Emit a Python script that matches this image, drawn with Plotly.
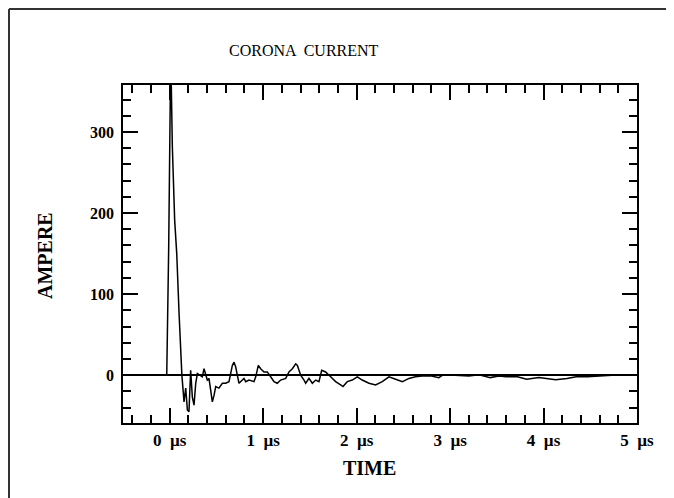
import plotly.graph_objects as go

# time in microseconds, current in ampere
time_us = [-0.5, -0.032, -0.011, 0.003, 0.008, 0.017, 0.028, 0.053, 0.075, 0.10, 0.124, 0.13,
           0.153, 0.171, 0.189, 0.206, 0.224, 0.242, 0.260, 0.278, 0.296, 0.331, 0.349, 0.367,
           0.385, 0.402, 0.420, 0.438, 0.456, 0.474, 0.492, 0.527, 0.563, 0.599, 0.634, 0.670,
           0.688, 0.706, 0.723, 0.741, 0.777, 0.795, 0.813, 0.848, 0.902, 0.920, 0.948, 0.973,
           1.009, 1.044, 1.080, 1.116, 1.151, 1.187, 1.241, 1.276, 1.312, 1.348, 1.366, 1.401,
           1.437, 1.455, 1.490, 1.526, 1.562, 1.597, 1.626, 1.668, 1.722, 1.775, 1.829, 1.854,
           1.900, 1.953, 2.007, 2.060, 2.132, 2.203, 2.274, 2.346, 2.417, 2.49, 2.56, 2.63,
           2.70, 2.80, 2.88, 2.92, 3.05, 3.20, 3.31, 3.43, 3.52, 3.60, 3.72, 3.82, 3.95, 4.05,
           4.13, 4.25, 4.35, 4.47, 4.58, 4.73, 4.85, 5.0]
current_a = [0, 0, 158, 355, 365, 356, 282, 191, 150, 76, 10, 0,
             -33, -16, -43, -45, 6, -27, -37, -10, 2, 0, -2, 8,
             0, -6, -4, -16, -33, -25, -14, -16, -10, -10, -8, 12,
             16, 10, -2, -10, -6, -4, -8, -6, -8, -2, 12, 8,
             4, 4, -2, -8, -10, -6, -4, 4, 8, 14, 12, 0,
             -6, -10, -4, -10, -6, -8, 6, 4, -2, -8, -12, -14,
             -8, -6, -2, -6, -10, -12, -8, -2, -5, -8, -4, -2,
             -1, -1, -3, 0, 0, -1, 0.5, -3, -1, -2, -2, -5, -3, -4,
             -5.5, -4, -2, -2, -1, 0, 0, 0]

x_tickvals = [0, 1, 2, 3, 4, 5]
x_ticktext = ["<b>0\u00a0\u00a0µs</b>", "<b>1\u00a0\u00a0µs</b>",
              "<b>2\u00a0\u00a0µs</b>", "<b>3\u00a0\u00a0µs</b>",
              "<b>4\u00a0\u00a0µs</b>", "<b>5\u00a0\u00a0µs</b>"]
y_tickvals = [0, 100, 200, 300]
y_ticktext = ["<b>0</b>", "<b>100</b>", "<b>200</b>", "<b>300</b>"]

FONT = "Liberation Serif"
# the page body adds an 8px offset; figure is sized so the plot lands where the reference has it
OFF = 8
W, H = 666, 490
L, R, T, B = 115, 37, 77, 75

fig = go.Figure()
fig.add_trace(go.Scatter(x=time_us, y=current_a, mode="lines",
                         line=dict(color="black", width=1.5), showlegend=False))

axis_common = dict(
    showgrid=False, showline=True, linecolor="black", linewidth=1.5,
    ticks="inside", ticklen=15, tickwidth=1.5, tickcolor="black",
    mirror="allticks",
)
fig.update_xaxes(range=[-0.5, 5.0], tickvals=x_tickvals, ticktext=x_ticktext,
                 tickfont=dict(family=FONT, size=17, color="black"),
                 minor=dict(ticks="inside", ticklen=8, tickwidth=1.5, dtick=0.2,
                            tick0=0, tickcolor="black"),
                 zeroline=False, ticklabelstandoff=1, **axis_common)
fig.update_yaxes(range=[-59, 358], tickvals=y_tickvals, ticktext=y_ticktext,
                 tickfont=dict(family=FONT, size=16, color="black"),
                 minor=dict(ticks="inside", ticklen=8, tickwidth=1.5, dtick=20,
                            tick0=0, tickcolor="black"),
                 zeroline=True, zerolinecolor="black", zerolinewidth=1.5,
                 ticklabelstandoff=4, **axis_common)

def px(x):
    return (x - OFF - L) / (W - L - R)

def py(y):
    return (H - B - (y - OFF)) / (H - T - B)

ann = dict(xref="paper", yref="paper", showarrow=False,
           xanchor="center", yanchor="middle")
fig.add_annotation(text="CORONA  CURRENT", x=px(304), y=py(50),
                   font=dict(family=FONT, size=16, color="black"), **ann)
fig.add_annotation(text="<b>AMPERE</b>", x=px(45), y=py(256), textangle=-90,
                   font=dict(family=FONT, size=20, color="black"), **ann)
fig.add_annotation(text="<b>TIME</b>", x=px(369), y=py(468),
                   font=dict(family=FONT, size=20, color="black"), **ann)

# outer frame (top and left edges)
fig.add_shape(type="line", xref="paper", yref="paper",
              x0=px(9), y0=py(9), x1=px(W + OFF + 5), y1=py(9),
              line=dict(color="#333333", width=2))
fig.add_shape(type="line", xref="paper", yref="paper",
              x0=px(9), y0=py(9), x1=px(9), y1=py(H + OFF + 5),
              line=dict(color="#333333", width=2))

fig.update_layout(width=W, height=H, margin=dict(l=L, r=R, t=T, b=B),
                  paper_bgcolor="white", plot_bgcolor="white",
                  font=dict(family=FONT, color="black"))

fig.write_html("out.html")
